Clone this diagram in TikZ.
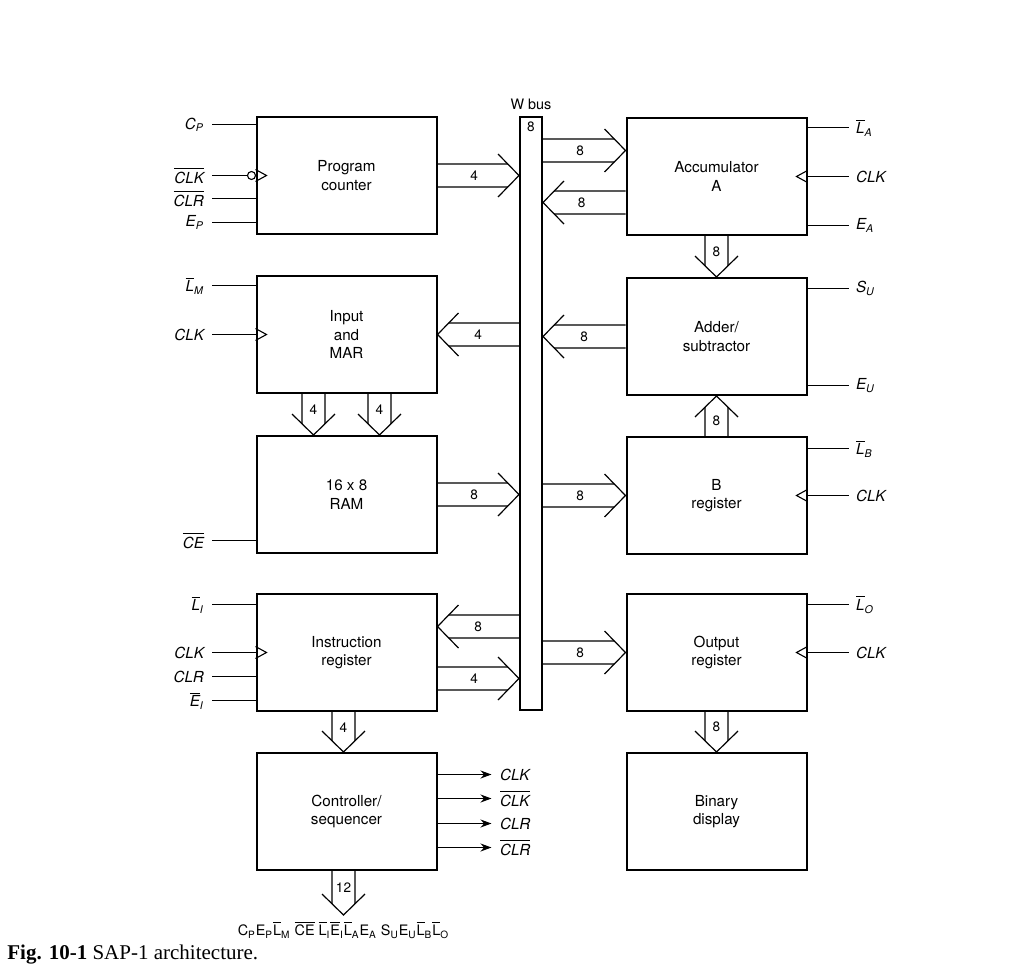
\documentclass[tikz,border=0pt]{standalone}
\usepackage{fontspec}
\setmainfont{TeX Gyre Heros}
\newfontfamily\capfont{Liberation Serif}
\usetikzlibrary{arrows.meta, calc, positioning}

\newcommand{\ovl}[1]{$\overline{\mbox{#1}}$}
% wide two-line bus arrow: start, tip, width label, label position
\newcommand{\busarrow}[4]{%
  \coordinate (ba-b) at ($(#2)!10.5pt!(#1)$);
  \coordinate (ba-a1) at ($(ba-b)!10.75pt!-90:(#1)$);
  \coordinate (ba-a2) at ($(ba-b)!10.75pt!90:(#1)$);
  \draw[busline] ($(#1)!5.75pt!90:(#2)$) -- ($(#2)!0.535!(ba-a1)$);
  \draw[busline] ($(#1)!5.75pt!-90:(#2)$) -- ($(#2)!0.535!(ba-a2)$);
  \draw[busline] (ba-a1) -- (#2) -- (ba-a2);
  \node[numlabel] at ($(#1)!#4!(#2)$) {#3};
}

\begin{document}
\begin{tikzpicture}[
                x=0.5pt, y=-0.5pt,
                block/.style={draw, line width=1pt, minimum width=90pt, minimum height=58.5pt, inner sep=0pt, align=center, font=\fontsize{7.6}{9.2}\selectfont},
                busline/.style={line width=0.6pt},
                pin/.style={line width=0.55pt},
                sig/.style={inner sep=0pt, font=\fontsize{7.6}{9}\selectfont\itshape},
                numlabel/.style={inner sep=0pt, font=\fontsize{6.8}{8}\selectfont}
                ]
                \useasboundingbox (0,0) rectangle (1034,969);

                %% Blocks
                \node[block] (pc) at (346.5,175.5) {Program\\counter};
                \node[block] (mar) at (346.5,334.5) {Input\\and\\MAR};
                \node[block] (ram) at (346.5,494.5) {16 x 8\\RAM};
                \node[block] (ir) at (346.5,652.5) {Instruction\\register};
                \node[block] (ctrl) at (346.5,811.5) {Controller/\\sequencer};
                \node[block] (acc) at (716.5,176.5) {Accumulator\\A};
                \node[block] (adder) at (716.5,336.5) {Adder/\\subtractor};
                \node[block] (breg) at (716.5,495.5) {B\\register};
                \node[block] (outreg) at (716.5,652.5) {Output\\register};
                \node[block] (disp) at (716.5,811.5) {Binary\\display};

                %% W bus
                \node[draw, line width=1pt, minimum width=11pt, minimum height=296.5pt, inner sep=0pt] (wbus) at (531,413.5) {};
                \node[numlabel] at ($(wbus.north)+(0,11)$) {8};
                \node[inner sep=0pt, font=\fontsize{7.2}{8}\selectfont, above=3pt of wbus.north] {W bus};

                %% Bus transfers
                \coordinate (acc-in) at ($(acc.west)+(0,-26)$);
                \coordinate (acc-out) at ($(acc.west)+(0,26)$);
                \coordinate (ir-in) at ($(ir.east)+(0,-26)$);
                \coordinate (ir-out) at ($(ir.east)+(0,26)$);
                \busarrow{pc.east}{wbus.west |- pc.east}{4}{0.45}
                \busarrow{wbus.east |- acc-in}{acc-in}{8}{0.45}
                \busarrow{acc-out}{wbus.east |- acc-out}{8}{0.53}
                \busarrow{wbus.west |- mar.east}{mar.east}{4}{0.5}
                \busarrow{adder.west}{wbus.east |- adder.west}{8}{0.5}
                \busarrow{ram.east}{wbus.west |- ram.east}{8}{0.45}
                \busarrow{wbus.east |- breg.west}{breg.west}{8}{0.45}
                \busarrow{wbus.west |- ir-in}{ir-in}{8}{0.5}
                \busarrow{ir-out}{wbus.west |- ir-out}{4}{0.45}
                \busarrow{wbus.east |- outreg.west}{outreg.west}{8}{0.45}

                % Block to block
                \coordinate (mar-a1) at ($(mar.south)+(-33,0)$);
                \coordinate (mar-a2) at ($(mar.south)+(33,0)$);
                \coordinate (ram-a1) at ($(ram.north)+(-33,0)$);
                \coordinate (ram-a2) at ($(ram.north)+(33,0)$);
                \coordinate (ir-a) at ($(ir.south)+(-3,0)$);
                \coordinate (ctrl-a) at ($(ctrl.north)+(-3,0)$);
                \coordinate (ctrl-b) at ($(ctrl.south)+(-3,0)$);
                \coordinate (ctrl-word) at ($(ctrl-b)+(0,44)$);
                \busarrow{mar-a1}{ram-a1}{4}{0.38}
                \busarrow{mar-a2}{ram-a2}{4}{0.38}
                \busarrow{ir-a}{ctrl-a}{4}{0.38}
                \busarrow{acc.south}{adder.north}{8}{0.38}
                \busarrow{breg.north}{adder.south}{8}{0.38}
                \busarrow{outreg.south}{disp.north}{8}{0.38}
                \busarrow{ctrl-b}{ctrl-word}{12}{0.38}
                \node[inner sep=0pt, font=\fontsize{7.2}{8}\selectfont] (word) at ($(ctrl-word)+(0,15)$) {C\textsubscript{P}E\textsubscript{P}\ovl{L}\textsubscript{M} \ovl{CE} \ovl{L}\textsubscript{I}\ovl{E}\textsubscript{I}\ovl{L}\textsubscript{A}E\textsubscript{A} S\textsubscript{U}E\textsubscript{U}\ovl{L}\textsubscript{B}\ovl{L}\textsubscript{O}};

                %% Control inputs, left column
                \foreach \dy/\txt in {-51/C\textsubscript{P}, 23/\ovl{CLR}, 47/E\textsubscript{P}} {
                    \draw[pin] ($(pc.west)+(0,\dy)$) -- ++(-44,0) node[sig, left=3.5pt] {\txt};
                }
                \draw[pin] ($(pc.west)+(-8,0)$) -- ++(-36,0) node[sig, left=3.5pt] {\ovl{CLK}};
                \draw[pin] ($(pc.west)+(-4,0)$) circle (2pt);
                \draw[pin] ($(mar.west)+(0,-49)$) -- ++(-44,0) node[sig, left=3.5pt] {\ovl{L}\textsubscript{M}};
                \draw[pin] ($(ram.west)+(0,46)$) -- ++(-44,0) node[sig, left=3.5pt] {\ovl{CE}};
                \foreach \dy/\txt in {-48/\ovl{L}\textsubscript{I}, 24/CLR, 48/\ovl{E}\textsubscript{I}} {
                    \draw[pin] ($(ir.west)+(0,\dy)$) -- ++(-44,0) node[sig, left=3.5pt] {\txt};
                }
                \foreach \blk in {mar, ir} {
                    \draw[pin] (\blk.west) -- ++(-44,0) node[sig, left=3.5pt] {CLK};
                }
                \foreach \blk in {pc, mar, ir} {
                    \draw[pin] ($(\blk.west)+(0,-6)$) -- ++(11,6) -- ++(-11,6);
                }

                %% Control inputs, right column
                \foreach \blk/\dy/\txt in {acc/-49/\ovl{L}\textsubscript{A}, acc/49/E\textsubscript{A}, adder/-48/S\textsubscript{U}, adder/49/E\textsubscript{U}, breg/-47/\ovl{L}\textsubscript{B}, outreg/-48/\ovl{L}\textsubscript{O}} {
                    \draw[pin] ($(\blk.east)+(0,\dy)$) -- ++(41,0) node[sig, right=3.5pt] {\txt};
                }
                \foreach \blk in {acc, breg, outreg} {
                    \draw[pin] (\blk.east) -- ++(41,0) node[sig, right=3.5pt] {CLK};
                    \draw[pin] ($(\blk.east)+(0,-6)$) -- ++(-11,6) -- ++(11,6);
                }

                %% Controller outputs
                \foreach \dy/\txt in {-37/CLK, -13/\ovl{CLK}, 12/CLR, 36/\ovl{CLR}} {
                    \draw[pin, -{Stealth[length=5.5pt, width=4pt]}] ($(ctrl.east)+(0,\dy)$) -- ++(54,0) node[sig, right=4pt] {\txt};
                }

                %% Caption
                \node[anchor=west, inner sep=0pt, font=\capfont\fontsize{10.5}{12}\selectfont] (caption) at (7,955) {\textbf{Fig. 10-1} SAP-1 architecture.};
\end{tikzpicture}
\end{document}
